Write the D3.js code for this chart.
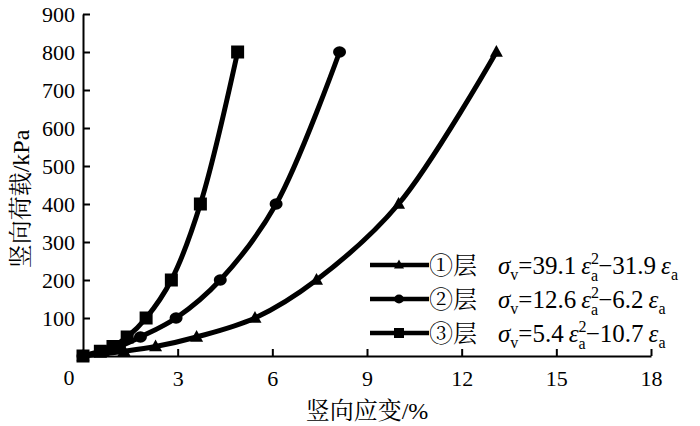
<!DOCTYPE html>
<html><head><meta charset="utf-8">
<script src="https://cdn.jsdelivr.net/npm/d3@7"></script>
<style>
body{margin:0;background:#fff;}
</style></head><body>
<svg id="c" width="700" height="426"></svg>
<script>
const loads = [0, 12.5, 25, 50, 100, 200, 400, 800];
const strain1 = [0, 1.3, 2.3, 3.6, 5.45, 7.4, 10.0, 13.1];   // ① triangles
const strain2 = [0, 0.7, 1.15, 1.82, 2.95, 4.35, 6.12, 8.13]; // ② circles
const strain3 = [0, 0.55, 0.95, 1.4, 2.0, 2.8, 3.72, 4.9];    // ③ squares
const xTicks = [3, 6, 9, 12, 15, 18];
const yTicks = [100, 200, 300, 400, 500, 600, 700, 800, 900];
const layerNames = ["①层", "②层", "③层"];
const coefA = ["39.1", "12.6", "5.4"];
const coefB = ["31.9", "6.2", "10.7"];
const xTitle = "竖向应变/%";
const yTitle = "竖向荷载/kPa";

const SERIF = "'Liberation Serif'";
const CJK = "'Noto Serif CJK SC'";

const svg = d3.select("#c");
const x = d3.scaleLinear().domain([0, 18]).range([83, 651]);
const y = d3.scaleLinear().domain([0, 900]).range([356, 14]);

const xa = svg.append("g").attr("transform", `translate(0,${y(0)})`)
  .call(d3.axisBottom(x).tickValues(xTicks).tickSizeInner(-7).tickSizeOuter(0).tickPadding(14));
const ya = svg.append("g").attr("transform", `translate(${x(0)},0)`)
  .call(d3.axisLeft(y).tickValues(yTicks).tickSizeInner(-7).tickSizeOuter(0).tickPadding(8));
[xa, ya].forEach(g => {
  g.attr("font-family", null).attr("font-size", null);
  g.selectAll("path.domain").attr("stroke", "#000").attr("stroke-width", 2);
  g.selectAll(".tick line").attr("stroke", "#000").attr("stroke-width", 2);
  g.selectAll(".tick text").attr("fill", "#000").style("font-family", SERIF).style("font-size", "22px");
});
ya.selectAll(".tick text").attr("dy", "0.34em");
svg.append("text").attr("x", x(0) - 14).attr("y", 385).attr("text-anchor", "middle")
  .style("font-family", SERIF).style("font-size", "22px").text("0");

function mixedText(sel, str, size) {
  const re = /[\u3000-\u9fff\u2460-\u24ff]/;
  const parts = str.match(/[\u3000-\u9fff\u2460-\u24ff]+|[^\u3000-\u9fff\u2460-\u24ff]+/g);
  parts.forEach(p => {
    sel.append("tspan").style("font-family", re.test(p) ? CJK : SERIF)
      .style("font-size", size + "px").text(p);
  });
}

mixedText(svg.append("text").attr("x", x(9)).attr("y", 419).attr("text-anchor", "middle"), xTitle, 24);
mixedText(svg.append("text").attr("transform", `translate(29,199) rotate(-90)`).attr("text-anchor", "middle"), yTitle, 24);

const series = [
  {xs: strain1, shape: "tri"},
  {xs: strain2, shape: "circle"},
  {xs: strain3, shape: "square"}
];
const line = d3.line().curve(d3.curveCatmullRom.alpha(0.5)).x(d => x(d[0])).y(d => y(d[1]));

function marker(g, shape, cx, cy, s) {
  if (shape === "square") {
    g.append("rect").attr("x", cx - s/2).attr("y", cy - s/2).attr("width", s).attr("height", s).attr("fill", "#000");
  } else if (shape === "circle") {
    g.append("ellipse").attr("cx", cx).attr("cy", cy).attr("rx", s/2).attr("ry", s/2*0.88).attr("fill", "#000");
  } else {
    const h = s * 0.9;
    g.append("path").attr("d", `M${cx},${cy - h*0.6}L${cx + s/2},${cy + h*0.4}L${cx - s/2},${cy + h*0.4}Z`).attr("fill", "#000");
  }
}

series.forEach(sr => {
  const pts = sr.xs.map((v, i) => [v, loads[i]]);
  svg.append("path").attr("d", line(pts)).attr("fill", "none").attr("stroke", "#000").attr("stroke-width", 5);
  const g = svg.append("g");
  pts.forEach(p => marker(g, sr.shape, x(p[0]), y(p[1]), 13));
});

const legY = [265, 299, 333];
const shapes = ["tri", "circle", "square"];
legY.forEach((ly, i) => {
  const g = svg.append("g");
  g.append("line").attr("x1", 370).attr("x2", 429).attr("y1", ly).attr("y2", ly).attr("stroke", "#000").attr("stroke-width", 4.5);
  marker(g, shapes[i], 399, ly, 10);
  g.append("text").attr("x", 429).attr("y", ly + 9).style("font-size", "24px")
    .style("font-family", CJK).text(layerNames[i]);
  const t = g.append("text").attr("x", 498).attr("y", ly + 9).style("font-size", "25px").style("font-family", SERIF);
  t.append("tspan").style("font-style", "italic").text("σ");
  t.append("tspan").attr("dy", 6).style("font-size", "16px").text("v");
  t.append("tspan").attr("dy", -6).text("=" + coefA[i] + "\u2009");
  t.append("tspan").style("font-style", "italic").text("ε");
  t.append("tspan").attr("dy", -10).style("font-size", "16px").text("2");
  t.append("tspan").attr("dx", -8).attr("dy", 17).style("font-size", "16px").text("a");
  t.append("tspan").attr("dy", -7).text("\u2212" + coefB[i] + "\u2009");
  t.append("tspan").style("font-style", "italic").text("ε");
  t.append("tspan").attr("dy", 6).style("font-size", "16px").text("a");
});
</script></body></html>
